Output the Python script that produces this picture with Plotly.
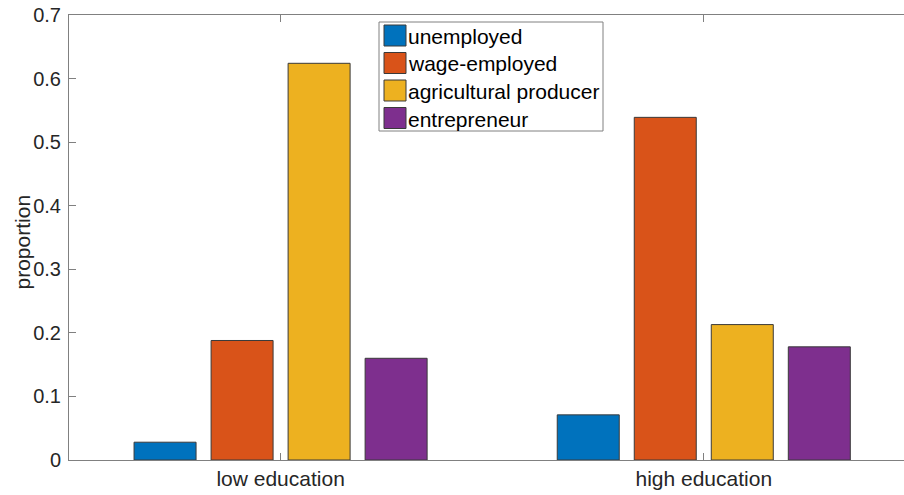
import plotly.graph_objects as go

categories = ["low education", "high education"]
series_names = ["unemployed", "wage-employed", "agricultural producer", "entrepreneur"]
unemployed = [0.028, 0.071]
wage_employed = [0.188, 0.539]
agricultural_producer = [0.624, 0.213]
entrepreneur = [0.160, 0.178]
y_ticks = [0, 0.1, 0.2, 0.3, 0.4, 0.5, 0.6, 0.7]
y_label = "proportion"

series_values = [unemployed, wage_employed, agricultural_producer, entrepreneur]
colors = ["#0072BD", "#D95319", "#EDB120", "#7E2F8E"]

W, H = 904, 495
L, R, T, B = 69, 0, 15, 35
pw, ph = W - L - R, H - T - B

def px_x(x):
    return (x - L) / pw

def px_y(y):
    return (H - B - y) / ph

xpos = [1, 2]
fig = go.Figure()
for name, vals, c in zip(series_names, series_values, colors):
    fig.add_trace(go.Bar(
        x=xpos, y=vals, name=name, marker=dict(color=c, line=dict(color="#3a3a3a", width=1)),
        showlegend=False,
    ))

font = "Liberation Sans, Arial, sans-serif"
axis_col = "#808080"
fig.update_layout(
    width=W, height=H,
    margin=dict(l=L, r=R, t=T, b=B),
    plot_bgcolor="white", paper_bgcolor="white",
    barmode="group", bargap=0.272, bargroupgap=0.195,
    font=dict(family=font, size=20, color="#262626"),
    xaxis=dict(
        range=[0.5, 1 + (904 - 281.3) / 422.7], tickvals=xpos, ticktext=categories,
        showline=True, linecolor=axis_col, linewidth=1, mirror="ticks",
        ticks="inside", ticklen=7, tickcolor=axis_col, showgrid=False, zeroline=False,
        tickfont=dict(size=21, color="#262626"),
    ),
    yaxis=dict(
        range=[0, 0.7], tickvals=y_ticks, ticktext=[("%g" % v) for v in y_ticks],
        showline=True, linecolor=axis_col, linewidth=1,
        ticks="inside", ticklen=7, tickcolor=axis_col, showgrid=False, zeroline=False,
        tickfont=dict(size=20, color="#262626"), ticklabelstandoff=3,
    ),
)

# y-axis label
fig.add_annotation(xref="paper", yref="paper", x=px_x(21.5), y=px_y(242),
                   text=y_label, textangle=-90, showarrow=False,
                   xanchor="center", yanchor="middle",
                   font=dict(family=font, size=21, color="#262626"))

# custom legend (MATLAB style)
fig.add_shape(type="rect", xref="paper", yref="paper",
              x0=px_x(379), x1=px_x(603), y0=px_y(131), y1=px_y(22),
              line=dict(color=axis_col, width=1), fillcolor="white", layer="above")
row_centers = [35.5, 63, 90.5, 118]
for name, c, yc in zip(series_names, colors, row_centers):
    fig.add_shape(type="rect", xref="paper", yref="paper",
                  x0=px_x(384), x1=px_x(406), y0=px_y(yc + 10.5), y1=px_y(yc - 10.5),
                  line=dict(color="#3a3a3a", width=1), fillcolor=c, layer="above")
    fig.add_annotation(xref="paper", yref="paper", x=px_x(406), y=px_y(yc + 1),
                       text=name, showarrow=False, xanchor="left", yanchor="middle",
                       font=dict(family=font, size=21, color="#000000"))

fig.write_html("out.html", config={"displayModeBar": False},
               post_script="document.body.style.margin='0';document.body.style.overflow='hidden';")
